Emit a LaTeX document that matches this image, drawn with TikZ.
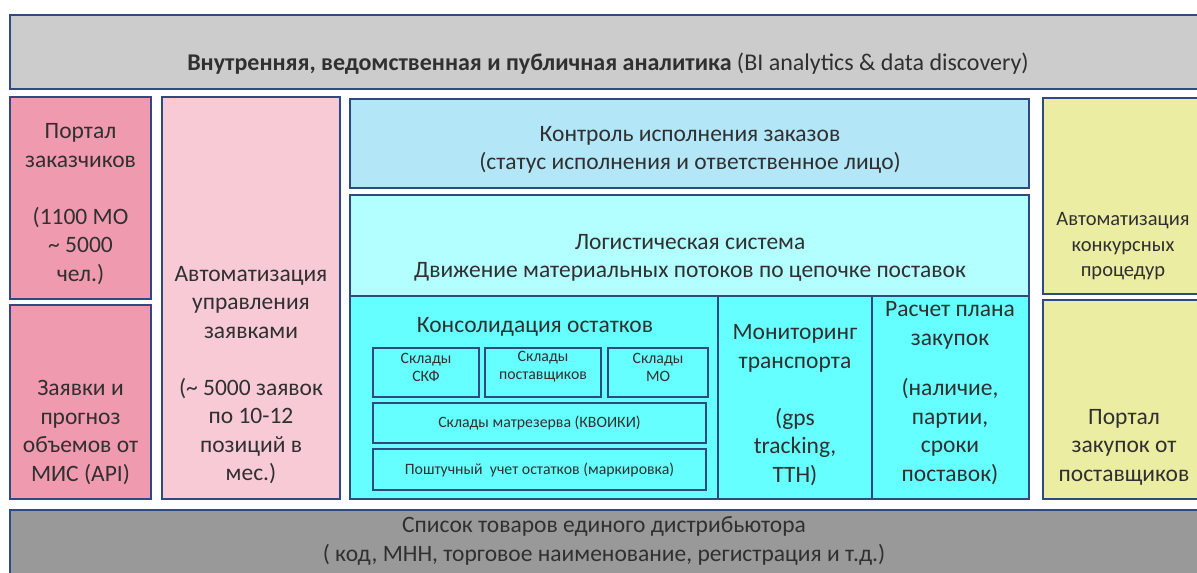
\documentclass[tikz,border=0pt]{standalone}
\usepackage{fontspec}
\setmainfont{Carlito}
\definecolor{bord}{HTML}{2F4A80}
\definecolor{txt}{HTML}{303030}
\definecolor{greyA}{HTML}{CCCCCC}
\definecolor{greyB}{HTML}{999999}
\definecolor{pinkA}{HTML}{F09AB0}
\definecolor{pinkB}{HTML}{F7CAD6}
\definecolor{blueA}{HTML}{B3E6F7}
\definecolor{cyanA}{HTML}{B3FFFF}
\definecolor{cyanB}{HTML}{66FFFF}
\definecolor{yellA}{HTML}{EBEDA3}
\tikzset{
  box/.style={draw=bord, line width=1.3pt},
  lbl/.style={text=txt, align=center, inner sep=0pt, yshift=-2pt, font=\fontsize{23.5}{28.5}\selectfont},
  slbl/.style={text=txt, align=center, inner sep=0pt, yshift=-1pt, font=\fontsize{15.8}{18}\selectfont},
}
\begin{document}
\begin{tikzpicture}[x=1pt,y=-1pt]
\useasboundingbox (0,0) rectangle (1197,573);
% boxes
\draw[box, fill=greyA] (10,15) rectangle (1210,89);
\draw[box, fill=pinkA] (10,97) rectangle (151,299);
\draw[box, fill=pinkA] (10,305) rectangle (151,499);
\draw[box, fill=pinkB] (162,97) rectangle (340,499);
\draw[box, fill=blueA] (350,99) rectangle (1029,188);
\draw[box, fill=cyanA] (350,195) rectangle (1029,499);
\draw[box, fill=cyanB] (350,296) rectangle (1029,499);
\draw[box] (718,296) -- (718,499);
\draw[box] (872,296) -- (872,499);
\draw[box, fill=yellA] (1043,98) rectangle (1210,294);
\draw[box, fill=yellA] (1043,300) rectangle (1210,499);
\draw[box, fill=greyB] (10,510) rectangle (1210,590);
% inner boxes
\draw[box, line width=1.1pt] (373,348) rectangle (479,397);
\draw[box, line width=1.1pt] (485,348) rectangle (601,397);
\draw[box, line width=1.1pt] (608,348) rectangle (708,397);
\draw[box, line width=1.1pt] (373,403) rectangle (706,443);
\draw[box, line width=1.1pt] (373,449) rectangle (706,490);
% texts
\node[lbl, font=\fontsize{24}{28.5}\selectfont] (t1) at (608,62) {\textbf{Внутренняя, ведомственная и публичная аналитика} (BI analytics \& data discovery)};
\node[lbl] (t2) at (80.5,202) {Портал\\заказчиков\\[28.5pt](1100 МО\\\textasciitilde{} 5000\\чел.)};
\node[lbl] (t3) at (80.5,430.5) {Заявки и\\прогноз\\объемов от\\МИС (API)};
\node[lbl] (t4) at (251,373) {Автоматизация\\управления\\заявками\\[28.5pt](\textasciitilde{} 5000 заявок\\по 10-12\\позиций в\\мес.)};
\node[lbl] (t5) at (690,148) {Контроль исполнения заказов\\(статус исполнения и ответственное лицо)};
\node[lbl] (t6) at (690,256) {Логистическая система\\Движение материальных потоков по цепочке поставок};
\node[lbl] (t7) at (535,325) {Консолидация остатков};
\node[lbl] (t8) at (795,403) {Мониторинг\\транспорта\\[28.5pt](gps\\tracking,\\ТТН)};
\node[lbl] (t9) at (950,391) {Расчет плана\\закупок\\[22pt](наличие,\\партии,\\сроки\\поставок)};
\node[lbl, font=\fontsize{20.5}{25.5}\selectfont] (t10) at (1123,244.5) {Автоматизация\\конкурсных\\процедур};
\node[lbl] (t11) at (1124,445) {Портал\\закупок от\\поставщиков};
\node[lbl] (t12) at (604,539) {Список товаров единого дистрибьютора\\( код, МНН, торговое наименование, регистрация и т.д.)};
\node[slbl] (s1) at (426,366) {Склады\\СКФ};
\node[slbl] (s2) at (543,366) {Склады\\поставщиков};
\node[slbl] (s3) at (658,366) {Склады\\МО};
\node[slbl] (s4) at (539.5,422) {Склады матрезерва (КВОИКИ)};
\node[slbl] (s5) at (539.5,469) {Поштучный\ \ учет остатков (маркировка)};
\end{tikzpicture}
\end{document}
